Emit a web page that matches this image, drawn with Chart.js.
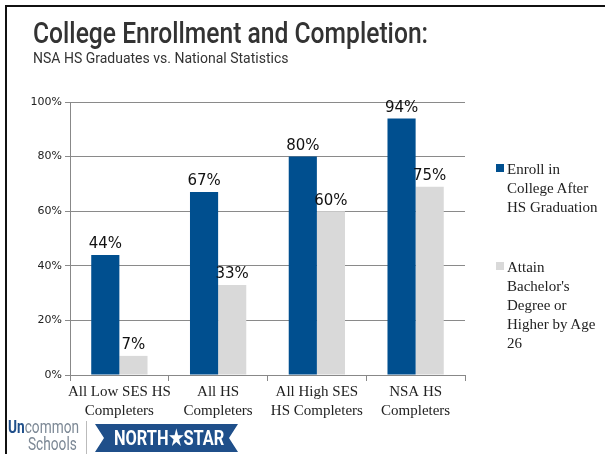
<!DOCTYPE html>
<html>
<head>
<meta charset="utf-8">
<script src="https://cdn.jsdelivr.net/npm/chart.js@4/dist/chart.umd.min.js"></script>
<style>
  body { margin: 0; background: #fff; }
  .page { position: relative; width: 605px; height: 454px; overflow: hidden; background: #fff; }
  .frame-top { position: absolute; left: 5px; top: 5px; width: 600px; height: 2px; background: #111; }
  .frame-left { position: absolute; left: 5px; top: 5px; width: 2px; height: 449px; background: #111; }
  .cond { font-family: "Roboto", sans-serif; transform-origin: 0 0; white-space: nowrap; }
  .title { position: absolute; left: 33px; top: 16px; font-size: 29px; font-weight: 500; color: #333; transform: scaleX(0.85); }
  .subtitle { position: absolute; left: 33px; top: 50px; font-size: 14px; color: #333; }
  #chart { position: absolute; left: 0; top: 0; }
  .legend { position: absolute; left: 496px; font-family: "Liberation Serif", serif; font-size: 15px; line-height: 19px; color: #222; }
  .legend .sw { position: absolute; left: 0; top: 4px; width: 8px; height: 8px; }
  .legend .txt { margin-left: 11px; }
  .logo-un { position: absolute; left: 8px; top: 418px; font-size: 18px; color: #7c8895; line-height: 17px; transform: scaleX(0.76); }
  .logo-un b { color: #1f4f8a; }
  .logo-sch { position: absolute; left: 28px; top: 435px; font-size: 18px; color: #7c8895; line-height: 17px; transform: scaleX(0.76); }
  .logo-sep { position: absolute; left: 86px; top: 421px; width: 1px; height: 33px; background: #bbb; }
  .banner { position: absolute; left: 95px; top: 424px; width: 143px; height: 28px; background: #1f4f8a;
    clip-path: polygon(0 0, 100% 0, calc(100% - 9px) 50%, 100% 100%, 0 100%, 9px 50%); }
  .banner span { position: absolute; left: 19px; top: 0; color: #fff; font-weight: bold; font-size: 21px; line-height: 28px; transform: scaleX(0.78); }
</style>
</head>
<body>
<div class="page">
  <canvas id="chart" width="605" height="454"></canvas>
  <div class="frame-top"></div>
  <div class="frame-left"></div>
  <div class="title cond">College Enrollment and Completion:</div>
  <div class="subtitle cond">NSA HS Graduates vs. National Statistics</div>
  <div class="legend" style="top:160px;"><span class="sw" style="background:#004f8f"></span><div class="txt">Enroll in<br>College After<br>HS Graduation</div></div>
  <div class="legend" style="top:258px;"><span class="sw" style="background:#d9d9d9"></span><div class="txt">Attain<br>Bachelor's<br>Degree or<br>Higher by Age<br>26</div></div>
  <div class="logo-un cond"><b>Un</b>common</div>
  <div class="logo-sch cond">Schools</div>
  <div class="logo-sep"></div>
  <div class="banner"><span class="cond">NORTH&#9733;STAR</span></div>
</div>
<script>
var categories = [
    ["All Low SES HS", "Completers"],
    ["All HS", "Completers"],
    ["All High SES", "HS Completers"],
    ["NSA HS", "Completers"]
];
var seriesNames = ["Enroll in College After HS Graduation", "Attain Bachelor's Degree or Higher by Age 26"];
var enrollValues = [44, 67, 80, 94];
var attainValues = [7, 33, 60, 69];
// printed labels (the last grey bar is labelled 75% but drawn lower)
var enrollLabels = ["44%", "67%", "80%", "94%"];
var attainLabels = ["7%", "33%", "60%", "75%"];
var yTicks = [0, 20, 40, 60, 80, 100];

var barLabels = {
    id: 'barLabels',
    afterDatasetsDraw: function (chart) {
        var ctx = chart.ctx;
        var texts = [enrollLabels, attainLabels];
        ctx.save();
        ctx.fillStyle = "#111";
        ctx.font = "15px 'DejaVu Sans'";
        ctx.textAlign = "center";
        ctx.textBaseline = "bottom";
        for (var d = 0; d < chart.data.datasets.length; d++) {
            var meta = chart.getDatasetMeta(d);
            for (var i = 0; i < meta.data.length; i++) {
                var bar = meta.data[i];
                ctx.fillText(texts[d][i], bar.x, bar.y - 3);
            }
        }
        ctx.restore();
    }
};

var ctx = document.getElementById('chart').getContext('2d');
var myChart = new Chart(ctx, {
    type: 'bar',
    data: {
        labels: categories,
        datasets: [{
            label: seriesNames[0],
            data: enrollValues,
            backgroundColor: "#004f8f"
        }, {
            label: seriesNames[1],
            data: attainValues,
            backgroundColor: "#d9d9d9"
        }]
    },
    options: {
        responsive: false,
        animation: false,
        categoryPercentage: 0.57,
        barPercentage: 1,
        layout: { padding: { left: 0, top: 102, right: 140, bottom: 0 } },
        plugins: { legend: { display: false }, tooltip: { enabled: false } },
        scales: {
            x: {
                afterFit: function (scale) { scale.height = 79; },
                grid: { drawOnChartArea: false, color: "#888", tickLength: 6 },
                border: { color: "#888" },
                ticks: {
                    color: "#222",
                    font: { family: "Liberation Serif", size: 15, lineHeight: 1.25 },
                    padding: 2,
                    maxRotation: 0,
                    autoSkip: false
                }
            },
            y: {
                min: 0,
                max: 100,
                afterFit: function (scale) { scale.width = 70; },
                afterBuildTicks: function (scale) {
                    scale.ticks = yTicks.map(function (v) { return { value: v }; });
                },
                grid: { color: "#8a8a8a", tickLength: 5 },
                border: { color: "#888" },
                ticks: {
                    color: "#222",
                    font: { family: "DejaVu Sans", size: 11 },
                    padding: 3,
                    callback: function (v) { return v + "%"; }
                }
            }
        }
    },
    plugins: [barLabels]
});
</script>
</body>
</html>
